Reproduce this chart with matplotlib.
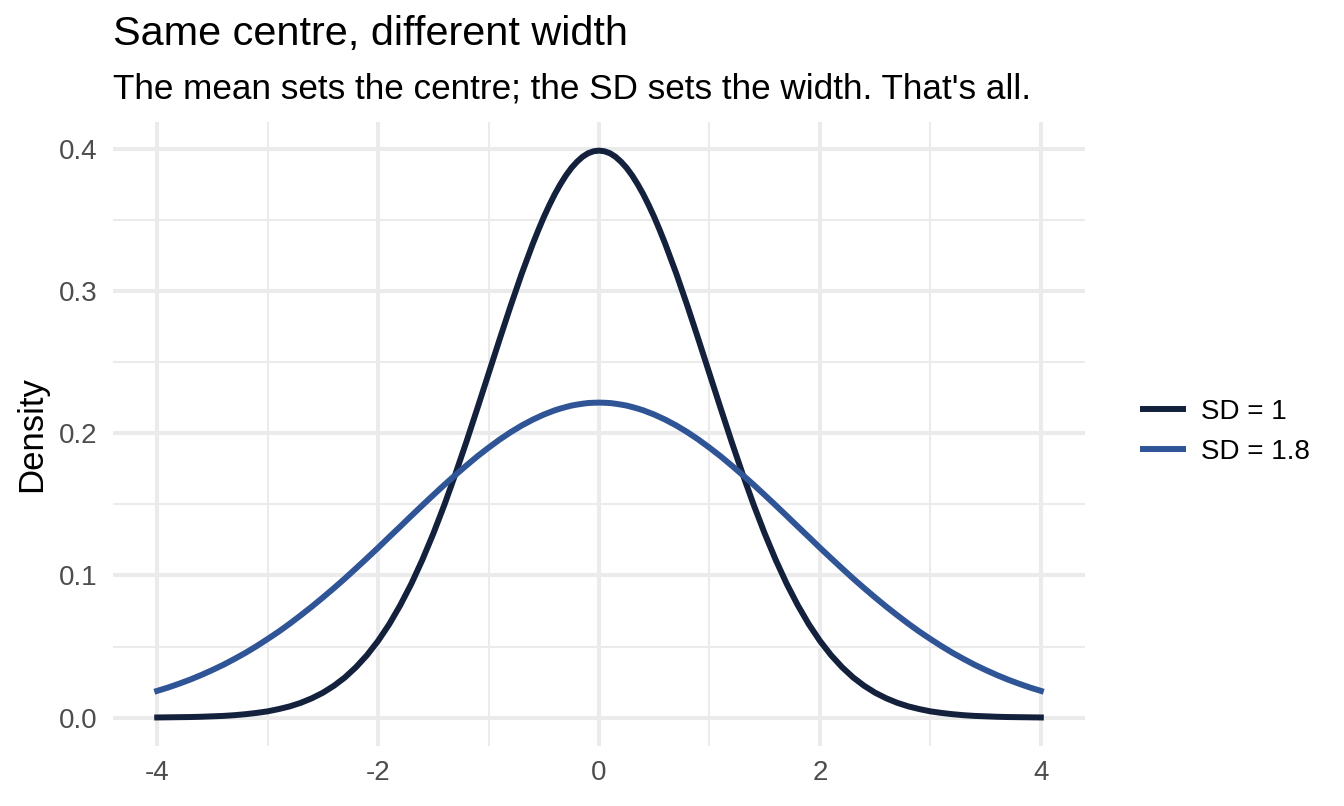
import matplotlib
matplotlib.use("Agg")
import matplotlib.pyplot as plt

plt.rcParams["font.family"] = ["Liberation Sans", "DejaVu Sans"]
plt.rcParams["axes.unicode_minus"] = False

# values for x >= 0; both curves are symmetric about 0
x_half = [0.0, 0.05, 0.1, 0.15, 0.2, 0.25, 0.3, 0.35, 0.4, 0.45, 0.5, 0.55, 0.6, 0.7,
          0.8, 0.9, 1.0, 1.1, 1.2, 1.3, 1.4, 1.5, 1.6, 1.7, 1.8, 1.9, 2.0, 2.1, 2.2,
          2.3, 2.4, 2.5, 2.6, 2.7, 2.8, 2.9, 3.0, 3.1, 3.2, 3.3, 3.4, 3.5, 3.6, 3.7,
          3.8, 3.9, 4.0]
sd1_half = [0.3989, 0.3984, 0.3970, 0.3945, 0.3910, 0.3867, 0.3814, 0.3752, 0.3683,
            0.3605, 0.3521, 0.3429, 0.3332, 0.3123, 0.2897, 0.2661, 0.2420, 0.2179,
            0.1942, 0.1714, 0.1497, 0.1295, 0.1109, 0.0940, 0.0790, 0.0656, 0.0540,
            0.0440, 0.0355, 0.0283, 0.0224, 0.0175, 0.0136, 0.0104, 0.0079, 0.0060,
            0.0044, 0.0033, 0.0024, 0.0017, 0.0012, 0.0009, 0.0006, 0.0004, 0.0003,
            0.0002, 0.0001]
sd18_half = [0.2216, 0.2215, 0.2213, 0.2208, 0.2202, 0.2195, 0.2185, 0.2174, 0.2162,
             0.2147, 0.2132, 0.2114, 0.2096, 0.2055, 0.2008, 0.1956, 0.1899, 0.1839,
             0.1774, 0.1707, 0.1638, 0.1566, 0.1493, 0.1419, 0.1344, 0.1270, 0.1195,
             0.1122, 0.1050, 0.0979, 0.0911, 0.0845, 0.0781, 0.0720, 0.0661, 0.0605,
             0.0553, 0.0503, 0.0456, 0.0413, 0.0372, 0.0335, 0.0300, 0.0268, 0.0239,
             0.0212, 0.0188]

x = [-v for v in x_half[::-1]] + x_half[1:]
sd1 = sd1_half[::-1] + sd1_half[1:]
sd18 = sd18_half[::-1] + sd18_half[1:]

labels = ["SD = 1", "SD = 1.8"]
colors = ["#14213D", "#2F5597"]

fig = plt.figure(figsize=(13.44, 8.06), dpi=100)
ax = fig.add_axes([0.0841, 0.0744, 0.7232, 0.7742])

ax.set_xlim(-4.4, 4.4)
ax.set_ylim(-0.02, 0.419)
ax.set_xticks([-4, -2, 0, 2, 4])
ax.set_xticks([-3, -1, 1, 3], minor=True)
ax.set_yticks([0.0, 0.1, 0.2, 0.3, 0.4])
ax.set_yticks([0.05, 0.15, 0.25, 0.35], minor=True)
ax.set_yticklabels(["0.0", "0.1", "0.2", "0.3", "0.4"])
ax.grid(True, which="major", color="#EBEBEB", linewidth=2.9)
ax.grid(True, which="minor", color="#EBEBEB", linewidth=1.45)
ax.set_axisbelow(True)
for s in ax.spines.values():
    s.set_visible(False)
ax.tick_params(which="both", length=0, labelsize=20, labelcolor="#4D4D4D")
ax.tick_params(axis="y", pad=11)
ax.tick_params(axis="x", pad=10)

for ys, lab, c in zip([sd1, sd18], labels, colors):
    ax.plot(x, ys, color=c, linewidth=4.3, label=lab, solid_joinstyle="round")

ax.set_ylabel("Density", fontsize=25, labelpad=8)

ax.legend(loc="center left", bbox_to_anchor=(1.0597, 0.503), frameon=False,
          fontsize=20, handlelength=1.45, handletextpad=0.62, labelspacing=0.5,
          borderpad=0, borderaxespad=0)

fig.text(0.0841, 0.9442, "Same centre, different width", fontsize=29.8, va="baseline")
fig.text(0.0841, 0.8784, "The mean sets the centre; the SD sets the width. That's all.",
         fontsize=25.3, va="baseline")

fig.savefig("out.png", dpi=100)
